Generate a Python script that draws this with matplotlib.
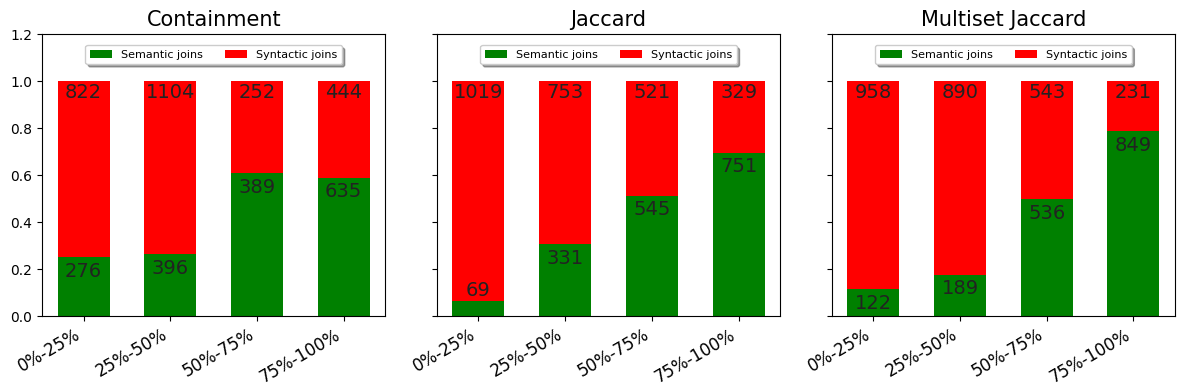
import matplotlib
matplotlib.use("Agg")
import matplotlib.pyplot as plt
import numpy as np

categories = ["0%-25%", "25%-50%", "50%-75%", "75%-100%"]
titles = ["Containment", "Jaccard", "Multiset Jaccard"]
semantic = [
    [276, 396, 389, 635],
    [69, 331, 545, 751],
    [122, 189, 536, 849],
]
syntactic = [
    [822, 1104, 252, 444],
    [1019, 753, 521, 329],
    [958, 890, 543, 231],
]

fig, axes = plt.subplots(1, 3, figsize=(11.84, 3.9), dpi=100, sharey=True)
fig.subplots_adjust(left=0.0355, right=0.9924, bottom=0.1897, top=0.9128, wspace=0.15)

x = np.arange(len(categories))
for ax, title, sem, syn in zip(axes, titles, semantic, syntactic):
    sem = np.array(sem, dtype=float)
    syn = np.array(syn, dtype=float)
    tot = sem + syn
    fs = sem / tot
    fy = syn / tot
    ax.bar(x, fs, width=0.6, color="green", label="Semantic joins")
    ax.bar(x, fy, width=0.6, bottom=fs, color="red", label="Syntactic joins")
    for i in range(len(x)):
        ys = fs[i] - 0.06 if fs[i] >= 0.1 else fs[i] + 0.045
        ax.text(x[i], ys, f"{int(sem[i])}", ha="center", va="center", fontsize=14, color="#222222")
        ax.text(x[i], 0.952, f"{int(syn[i])}", ha="center", va="center", fontsize=14, color="#222222")
    ax.set_title(title, fontsize=15)
    ax.set_ylim(0, 1.2)
    ax.set_xticks(x)
    ax.set_xticklabels(categories, rotation=30, ha="right", fontsize=12)
    ax.legend(loc="upper center", ncol=2, fontsize=8, fancybox=True, shadow=True,
              bbox_to_anchor=(0.5, 0.98))

fig.savefig("out.png", dpi=100)
